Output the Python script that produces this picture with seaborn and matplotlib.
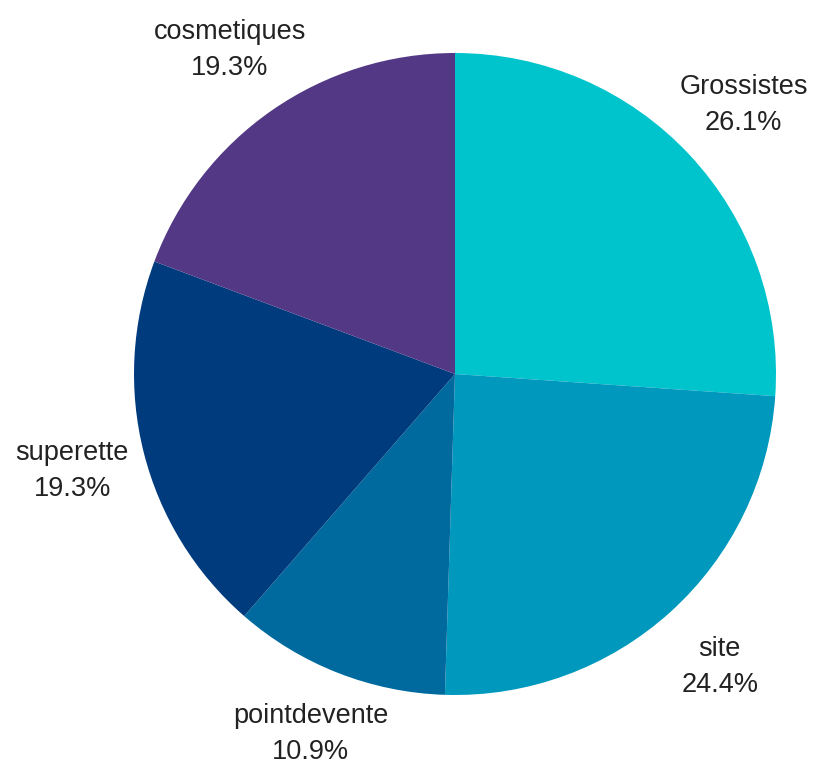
import matplotlib
matplotlib.use("Agg")
import matplotlib.pyplot as plt
import seaborn as sns

# Sales share by channel
categories = ["Grossistes", "site", "pointdevente", "superette", "cosmetiques"]
shares = [26.1, 24.4, 10.9, 19.3, 19.3]
colors = ["#00C4CC", "#0099BD", "#00699E", "#003C7D", "#533985"]

sns.set_theme(style="white")
plt.rcParams["font.family"] = ["Liberation Sans", "DejaVu Sans"]

W, H = 815, 767
fig = plt.figure(figsize=(W / 100, H / 100), dpi=100)
ax = fig.add_axes([0, 0, 1, 1])

labels = [f"{c}\n{v:.1f}%" for c, v in zip(categories, shares)]
wedges, texts = ax.pie(
    shares,
    labels=labels,
    colors=sns.color_palette(colors),
    startangle=90,
    counterclock=False,
    center=(455, H - 374),
    radius=321,
    labeldistance=1.23,
    wedgeprops=dict(linewidth=0),
    textprops=dict(fontsize=19.5, color="#222222", linespacing=1.5),
)
for t in texts:
    t.set_horizontalalignment("center")
    t.set_verticalalignment("center")

# pixel-based data coordinates for the whole canvas
ax.set_xlim(0, W)
ax.set_ylim(0, H)
ax.set_aspect("equal")
ax.axis("off")

# keep labels fully inside the canvas
fig.canvas.draw()
renderer = fig.canvas.get_renderer()
for t in texts:
    bb = t.get_window_extent(renderer)
    x, y = t.get_position()
    if bb.y0 < 2:
        t.set_position((x, y + (2 - bb.y0)))
    elif bb.y1 > H - 2:
        t.set_position((x, y - (bb.y1 - (H - 2))))

fig.savefig("out.png", dpi=100, facecolor="white")
